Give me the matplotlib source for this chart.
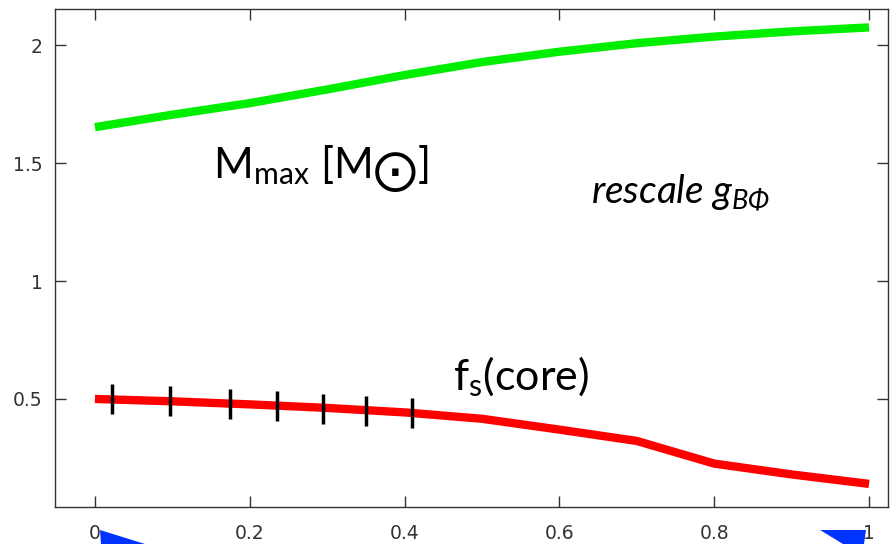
#!/usr/bin/python3

import matplotlib
matplotlib.use('Agg')

import matplotlib.pyplot as plt
from matplotlib.patches import Polygon

# rescale factor of g_B-Phi coupling
x = [0.0, 0.1, 0.2, 0.3, 0.4, 0.5, 0.6, 0.7, 0.8, 0.9, 1.0]

# maximum mass, solar masses
m_max = [1.652, 1.705, 1.754, 1.812, 1.873, 1.928, 1.972, 2.008, 2.036, 2.058, 2.075]

# strangeness fraction in the core
f_s = [0.50, 0.49, 0.477, 0.462, 0.443, 0.416, 0.37, 0.322, 0.226, 0.18, 0.14]

# markers along the f_s curve
mark_x = [0.022, 0.097, 0.175, 0.235, 0.294, 0.350, 0.409]
mark_y = [0.499, 0.490, 0.478, 0.470, 0.459, 0.450, 0.440]

xticks = [0, 0.2, 0.4, 0.6, 0.8, 1]
xticklabels = ['0', '0.2', '0.4', '0.6', '0.8', '1']
yticks = [0.5, 1, 1.5, 2]
yticklabels = ['0.5', '1', '1.5', '2']

plt.rcParams['font.family'] = ['DejaVu Sans']

fig = plt.figure(figsize=(8.9, 5.44), dpi=100)
ax = fig.add_axes([55 / 890, 37 / 544, 833 / 890, 498 / 544])

ax.plot(x, m_max, color='#00ee00', linewidth=6, solid_capstyle='butt')
ax.plot(x, f_s, color='#ff0000', linewidth=6, solid_capstyle='butt')
ax.plot(mark_x, mark_y, linestyle='none', marker='|', markersize=21,
        markeredgewidth=2.5, color='black')

ax.set_xlim(-0.0516, 1.0245)
ax.set_ylim(0.042, 2.153)
ax.set_xticks(xticks)
ax.set_xticklabels(xticklabels)
ax.set_yticks(yticks)
ax.set_yticklabels(yticklabels)

ax.tick_params(direction='in', length=8, width=1, colors='#333333',
               labelsize=13.5, top=True, right=True)
ax.tick_params(axis='x', pad=12)
ax.tick_params(axis='y', pad=9)
for s in ax.spines.values():
    s.set_color('#333333')
    s.set_linewidth(1)

txt_font = ['Lato', 'DejaVu Sans']
ax.text(0.152, 1.436, r'M$_{\mathregular{max}}$ [M$_{\bigodot}$]', fontsize=31,
        family=txt_font, ha='left', va='baseline')
ax.text(0.641, 1.33, r'rescale g$_{\mathregular{B\Phi}}$', fontsize=28,
        family=txt_font, style='italic', ha='left', va='baseline')
ax.text(0.462, 0.538, r'f$_{\mathregular{s}}$(core)', fontsize=31,
        family=txt_font, ha='left', va='baseline')

# blue arrow heads poking in from below
fig.patches.append(Polygon([[100, 14], [145, 0], [101, 0]], closed=True,
                           transform=None, facecolor='#0033ff', edgecolor='none'))
fig.patches.append(Polygon([[820, 14], [866, 14], [864, 0], [843, 0]], closed=True,
                           transform=None, facecolor='#0033ff', edgecolor='none'))

plt.savefig('out.png', dpi=100)
